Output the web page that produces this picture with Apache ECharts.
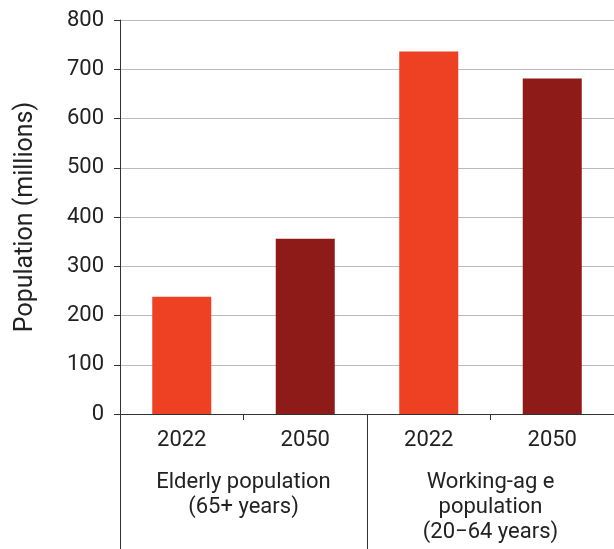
<!DOCTYPE html>
<html>
<head>
<meta charset="utf-8" />
<title>Population</title>
<style>
html, body { margin: 0; padding: 0; background: #fff; }
#chart { width: 614px; height: 549px; }
</style>
</head>
<body>
<div id="chart"></div>
<script src="https://cdn.jsdelivr.net/npm/echarts@6/dist/echarts.min.js"></script>
<script>
// years under each bar, and the two groups below them
var years = ['2022', '2050', '2022', '2050'];
var groups = ['Elderly population\n(65+ years)', 'Working-ag e\npopulation\n(20\u221264 years)'];
var values = [238, 356, 736, 681];
var yTicks = [0, 100, 200, 300, 400, 500, 600, 700, 800];
var yearColors = { '2022': '#EE4023', '2050': '#8E1B18' };

var textColor = '#222';
var lineColor = '#333';

var myChart = echarts.init(document.getElementById('chart'));
var option = {
  animation: false,
  textStyle: { fontFamily: 'Roboto' },
  grid: { left: 120, right: -2, top: 20, bottom: 135 },
  xAxis: [
    {
      type: 'category',
      data: years,
      position: 'bottom',
      axisLine: { show: true, lineStyle: { color: lineColor, width: 1 } },
      axisTick: { show: true, length: 6, lineStyle: { color: lineColor } },
      axisLabel: { color: textColor, fontSize: 22, margin: 15 }
    },
    {
      type: 'category',
      data: groups,
      position: 'bottom',
      axisLine: { show: false },
      axisTick: { show: true, length: 140, lineStyle: { color: lineColor } },
      axisLabel: { color: textColor, fontSize: 22, lineHeight: 25, margin: 56, verticalAlign: 'top' }
    }
  ],
  yAxis: {
    type: 'value',
    min: yTicks[0],
    max: yTicks[yTicks.length - 1],
    interval: 100,
    name: 'Population (millions)',
    nameLocation: 'middle',
    nameGap: 82,
    nameTextStyle: { color: textColor, fontSize: 25 },
    axisLine: { show: true, lineStyle: { color: lineColor } },
    axisTick: { show: true, length: 6, lineStyle: { color: lineColor } },
    axisLabel: { color: textColor, fontSize: 22, margin: 16 },
    splitLine: { show: true, lineStyle: { color: '#bbb', width: 1 } }
  },
  series: [
    {
      type: 'bar',
      xAxisIndex: 0,
      data: values,
      barWidth: 59,
      itemStyle: {
        color: function (p) { return yearColors[years[p.dataIndex]]; }
      }
    }
  ]
};
option && myChart.setOption(option);
</script>
</body>
</html>
